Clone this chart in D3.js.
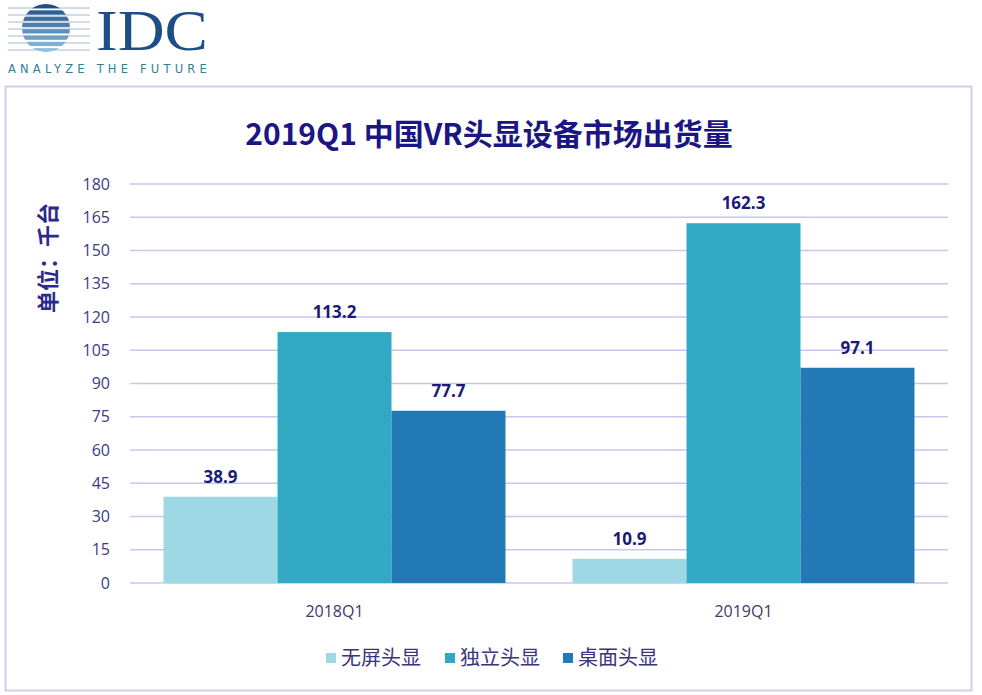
<!DOCTYPE html>
<html>
<head>
<meta charset="utf-8">
<script src="https://cdn.jsdelivr.net/npm/d3@7"></script>
<style>
  body { margin: 0; background: #fff; }
  svg { display: block; font-family: "Noto Sans CJK SC", "Noto Sans", sans-serif; }
</style>
</head>
<body>
<svg id="chart" width="982" height="695"></svg>
<script>
// data
var quarters = ["2018Q1", "2019Q1"];
var seriesNames = ["无屏头显", "独立头显", "桌面头显"];
var seriesColors = ["#9fd8e5", "#31a9c4", "#2378b6"];
var noScreen = [38.9, 10.9];
var standalone = [113.2, 162.3];
var desktop = [77.7, 97.1];
var yTicks = [0, 15, 30, 45, 60, 75, 90, 105, 120, 135, 150, 165, 180];

var values = [noScreen, standalone, desktop];
var svg = d3.select("#chart");
var navy = "#1c1a78";

// IDC logo
var logo = svg.append("g");
var cx = 46, cy = 28, r = 24;
logo.append("clipPath").attr("id", "globe")
  .append("circle").attr("cx", cx).attr("cy", cy).attr("r", r);
logo.selectAll("line.ext")
  .data([8, 15, 22, 29, 36, 43, 50])
  .enter()
  .append("line")
  .attr("x1", 8).attr("x2", 90)
  .attr("y1", function(d){ return d; }).attr("y2", function(d){ return d; })
  .attr("stroke", "#a8b8cc").attr("stroke-width", 1);
logo.selectAll("rect.stripe")
  .data(d3.range(8))
  .enter()
  .append("rect")
  .attr("clip-path", "url(#globe)")
  .attr("x", cx - r).attr("width", 2 * r)
  .attr("y", function(d){ return cy - r + d * 6.3; })
  .attr("height", 4.3)
  .attr("fill", function(d){ return d3.interpolateRgb("#1d4f86", "#8fc0e0")(d / 7); });
logo.append("text")
  .attr("x", 96).attr("y", 50)
  .attr("font-family", "Liberation Serif, serif")
  .attr("font-size", 58)
  .attr("textLength", 112)
  .attr("lengthAdjust", "spacingAndGlyphs")
  .attr("fill", "#1d4f86")
  .text("IDC");
logo.append("text")
  .attr("x", 8).attr("y", 73)
  .attr("font-family", "DejaVu Sans, sans-serif")
  .attr("font-size", 11.5)
  .attr("letter-spacing", 4.2)
  .attr("fill", "#2f7f98")
  .text("ANALYZE THE FUTURE");

// frame
svg.append("rect")
  .attr("x", 5.5).attr("y", 86.5)
  .attr("width", 966).attr("height", 604)
  .attr("fill", "none")
  .attr("stroke", "#cfd0ea").attr("stroke-width", 2);

// title
svg.append("text")
  .attr("x", 489).attr("y", 145)
  .attr("text-anchor", "middle")
  .attr("font-size", 30).attr("font-weight", "bold")
  .attr("fill", "#1b1683")
  .text("2019Q1 中国VR头显设备市场出货量");

var plotLeft = 130, plotRight = 948, plotTop = 184, plotBottom = 583;

var y = d3.scaleLinear().domain([0, 180]).range([plotBottom, plotTop]);
var x0 = d3.scaleBand().domain(quarters).range([plotLeft, plotRight]).paddingInner(0).paddingOuter(0);
var x1 = d3.scaleBand().domain(seriesNames).range([0, x0.bandwidth()]).paddingOuter(0.294);

// gridlines
svg.append("g")
  .selectAll("line")
  .data(yTicks)
  .enter()
  .append("line")
  .attr("x1", plotLeft).attr("x2", plotRight)
  .attr("y1", function(d){ return y(d); }).attr("y2", function(d){ return y(d); })
  .attr("stroke", "#c9c6ee").attr("stroke-width", 1.5);

// y axis ticks
var yAxis = d3.axisLeft(y).tickValues(yTicks).tickSize(0).tickPadding(0);
var ya = svg.append("g").attr("transform", "translate(110,0)").call(yAxis);
ya.select(".domain").remove();
ya.selectAll("text")
  .attr("font-size", 16)
  .attr("fill", "#3d3a86")
  .attr("font-family", "Open Sans, sans-serif");

// y axis label
svg.append("text")
  .attr("transform", "translate(56,258) rotate(-90)")
  .attr("text-anchor", "middle")
  .attr("font-size", 22).attr("font-weight", "bold")
  .attr("fill", "#2b2a8a")
  .text("单位：千台");

// bars
var groups = svg.append("g")
  .selectAll("g")
  .data(quarters)
  .enter()
  .append("g")
  .attr("transform", function(d){ return "translate(" + x0(d) + ",0)"; });

function rows(d, i){
  return seriesNames.map(function(s, k){ return {s: s, k: k, v: values[k][i]}; });
}

groups.selectAll("rect")
  .data(rows)
  .enter()
  .append("rect")
  .attr("x", function(d){ return x1(d.s); })
  .attr("width", x1.bandwidth())
  .attr("y", function(d){ return y(d.v); })
  .attr("height", function(d){ return plotBottom - y(d.v); })
  .attr("fill", function(d){ return seriesColors[d.k]; });

groups.selectAll("text.val")
  .data(rows)
  .enter()
  .append("text")
  .attr("class", "val")
  .attr("x", function(d){ return x1(d.s) + x1.bandwidth() / 2; })
  .attr("y", function(d){ return y(d.v) - 14; })
  .attr("text-anchor", "middle")
  .attr("font-size", 17).attr("font-weight", "bold")
  .attr("font-family", "Open Sans, sans-serif")
  .attr("fill", navy)
  .text(function(d){ return d.v.toFixed(1); });

// x axis labels
var xAxis = d3.axisBottom(x0).tickSize(0).tickPadding(0);
var xa = svg.append("g").attr("transform", "translate(0,617)").call(xAxis);
xa.select(".domain").remove();
xa.selectAll("text")
  .attr("font-size", 16)
  .attr("fill", "#3d3a6a")
  .attr("font-family", "Open Sans, sans-serif")
  .attr("dy", 0);

// legend
var legendX = [326, 445, 563];
var lg = svg.append("g")
  .selectAll("g")
  .data(seriesNames)
  .enter()
  .append("g")
  .attr("transform", function(d, i){ return "translate(" + legendX[i] + ",658)"; });
lg.append("rect")
  .attr("x", 0).attr("y", -5)
  .attr("width", 10).attr("height", 10)
  .attr("fill", function(d, i){ return seriesColors[i]; });
lg.append("text")
  .attr("x", 15).attr("y", 7)
  .attr("font-size", 20)
  .attr("fill", "#3a347e")
  .text(function(d){ return d; });
</script>
</body>
</html>
